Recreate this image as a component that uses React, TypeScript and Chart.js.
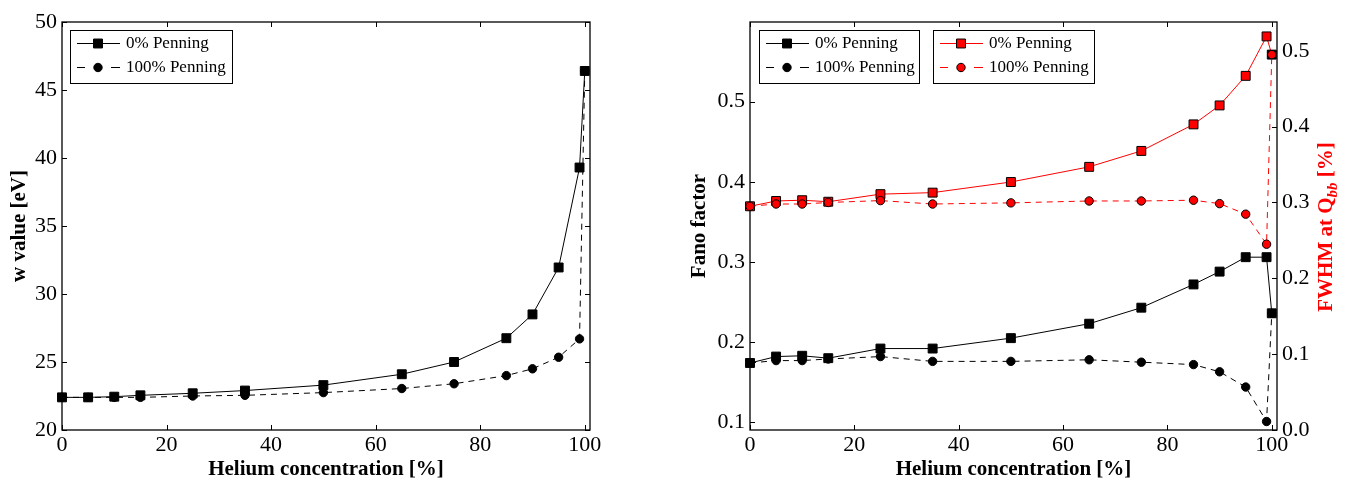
import React, { useEffect, useRef } from "react";
import { Chart, registerables } from "chart.js";

Chart.register(...registerables);

// ---------- data ----------
const helium = [0, 5, 10, 15, 25, 35, 50, 65, 75, 85, 90, 95, 99, 100];
const wValue0 = [22.4, 22.4, 22.45, 22.55, 22.7, 22.9, 23.3, 24.1, 25.0, 26.75, 28.5, 31.95, 39.3, 46.4];
const wValue100 = [22.4, 22.4, 22.4, 22.4, 22.5, 22.55, 22.75, 23.05, 23.4, 24.0, 24.5, 25.35, 26.7, 46.4];
const fano0 = [0.174, 0.182, 0.183, 0.18, 0.192, 0.192, 0.205, 0.223, 0.243, 0.272, 0.288, 0.306, 0.306, 0.236];
const fano100 = [0.174, 0.177, 0.177, 0.179, 0.182, 0.176, 0.176, 0.178, 0.175, 0.172, 0.163, 0.144, 0.101, 0.236];
const fwhm0 = [0.295, 0.302, 0.303, 0.301, 0.311, 0.313, 0.327, 0.347, 0.368, 0.403, 0.428, 0.467, 0.519, 0.495];
const fwhm100 = [0.295, 0.298, 0.298, 0.3, 0.3025, 0.298, 0.2995, 0.302, 0.302, 0.303, 0.2985, 0.2846, 0.245, 0.495];

const xTicks = [0, 20, 40, 60, 80, 100];
const wTicks = [20, 25, 30, 35, 40, 45, 50];
const fanoTicks = [0.1, 0.2, 0.3, 0.4, 0.5];
const fwhmTicks = [0.0, 0.1, 0.2, 0.3, 0.4, 0.5];
const seriesLabels = ["0% Penning", "100% Penning"];

const SERIF = "'Liberation Serif', 'DejaVu Serif', serif";
const RED = "#ff0000";

const pts = (ys: number[]) => helium.map((x, i) => ({ x, y: ys[i] }));

// ---------- plugins ----------
const framePlugin = {
  id: "frame",
  beforeDatasetsDraw(chart: any) {
    const { ctx, chartArea: ca, scales } = chart;
    ctx.save();
    ctx.strokeStyle = "#000";
    ctx.lineWidth = 1.3;
    ctx.strokeRect(ca.left, ca.top, ca.right - ca.left, ca.bottom - ca.top);
    ctx.lineWidth = 1;
    const tl = 5;
    const xs = scales.x;
    xs.ticks.forEach((t: any) => {
      const px = Math.round(xs.getPixelForValue(t.value)) + 0.5;
      ctx.beginPath();
      ctx.moveTo(px, ca.bottom);
      ctx.lineTo(px, ca.bottom - tl);
      ctx.moveTo(px, ca.top);
      ctx.lineTo(px, ca.top + tl);
      ctx.stroke();
    });
    const ys = scales.y;
    const yr = scales.y1 || scales.y;
    ys.ticks.forEach((t: any) => {
      const py = Math.round(ys.getPixelForValue(t.value)) + 0.5;
      ctx.beginPath();
      ctx.moveTo(ca.left, py);
      ctx.lineTo(ca.left + tl, py);
      ctx.stroke();
    });
    yr.ticks.forEach((t: any) => {
      const py = Math.round(yr.getPixelForValue(t.value)) + 0.5;
      ctx.beginPath();
      ctx.moveTo(ca.right, py);
      ctx.lineTo(ca.right - tl, py);
      ctx.stroke();
    });
    ctx.restore();
  },
  afterDatasetsDraw(chart: any, _a: any, opts: any) {
    const { ctx, chartArea: ca } = chart;
    const boxes = (opts && opts.boxes) || [];
    ctx.save();
    boxes.forEach((b: any) => {
      const bx = ca.left + b.x;
      const by = ca.top + b.y;
      ctx.fillStyle = "#fff";
      ctx.fillRect(bx, by, b.w, b.h);
      ctx.strokeStyle = "#000";
      ctx.lineWidth = 1;
      ctx.setLineDash([]);
      ctx.strokeRect(bx + 0.5, by + 0.5, b.w, b.h);
      b.items.forEach((di: number, r: number) => {
        const ds = chart.data.datasets[di];
        const cy = by + 13 + r * 24 + 0.5;
        ctx.strokeStyle = ds.borderColor;
        ctx.lineWidth = 1;
        ctx.beginPath();
        if (ds.borderDash && ds.borderDash.length) {
          ctx.moveTo(bx + 7, cy);
          ctx.lineTo(bx + 15, cy);
          ctx.moveTo(bx + 41, cy);
          ctx.lineTo(bx + 50, cy);
        } else {
          ctx.moveTo(bx + 7, cy);
          ctx.lineTo(bx + 50, cy);
        }
        ctx.stroke();
        ctx.fillStyle = ds.legendFill || ds.backgroundColor;
        ctx.strokeStyle = ds.pointBorderColor || "#000";
        const mx = bx + 28;
        ctx.beginPath();
        if (ds.pointStyle === "rect") {
          const s = ds.pointRadius * Math.SQRT1_2;
          ctx.rect(mx - s, cy - s, 2 * s, 2 * s);
        } else {
          ctx.arc(mx, cy, ds.pointRadius, 0, Math.PI * 2);
        }
        ctx.fill();
        ctx.stroke();
        ctx.fillStyle = "#000";
        ctx.font = `17px ${SERIF}`;
        ctx.textBaseline = "middle";
        ctx.textAlign = "left";
        ctx.fillText(ds.label, bx + 56, cy);
      });
    });
    if (opts && opts.rightTitle) {
      const rt = opts.rightTitle;
      ctx.translate(rt.x, rt.y);
      ctx.rotate(-Math.PI / 2);
      ctx.fillStyle = RED;
      ctx.textBaseline = "middle";
      ctx.textAlign = "left";
      const fMain = `bold 21px ${SERIF}`;
      const fSub = `italic bold 15px ${SERIF}`;
      const parts = [
        { t: "FWHM at Q", f: fMain, dy: 0 },
        { t: "bb", f: fSub, dy: 6 },
        { t: " [%]", f: fMain, dy: 0 },
      ];
      let total = 0;
      parts.forEach((p) => {
        ctx.font = p.f;
        total += ctx.measureText(p.t).width;
      });
      let x = -total / 2;
      parts.forEach((p) => {
        ctx.font = p.f;
        ctx.fillText(p.t, x, p.dy);
        x += ctx.measureText(p.t).width;
      });
    }
    ctx.restore();
  },
};

const tickFont = { family: SERIF, size: 22 };
const titleFont = { family: SERIF, size: 21, weight: "bold" as const };
const noGrid = { display: false, drawTicks: false, tickLength: 0 };

function xScale() {
  return {
    type: "linear" as const,
    min: 0,
    max: 101,
    afterBuildTicks: (s: any) => {
      s.ticks = xTicks.map((v) => ({ value: v }));
    },
    afterFit: (s: any) => {
      s.height = 49;
    },
    grid: noGrid,
    border: { display: false },
    ticks: { font: tickFont, color: "#000", padding: 2, maxRotation: 0, callback: (v: any) => String(v) },
    title: { display: true, text: "Helium concentration [%]", font: titleFont, color: "#000", padding: { top: 0, bottom: -3 } },
  };
}

function baseDs(label: string, ys: number[], color: string, dashed: boolean, order: number, extra: any = {}) {
  return {
    label,
    data: pts(ys),
    borderColor: color,
    backgroundColor: color,
    borderWidth: 1,
    borderDash: dashed ? [6, 5] : [],
    pointStyle: dashed ? "circle" : "rect",
    pointRadius: dashed ? 4.2 : 6.3,
    pointBorderColor: "#000",
    pointBorderWidth: 1,
    pointBackgroundColor: color,
    tension: 0,
    clip: false,
    order,
    ...extra,
  };
}

function LeftChart() {
  const ref = useRef<HTMLCanvasElement>(null);
  useEffect(() => {
    const chart = new Chart(ref.current as HTMLCanvasElement, {
      type: "line",
      data: {
        datasets: [
          baseDs(seriesLabels[0], wValue0, "#000", false, 0),
          baseDs(seriesLabels[1], wValue100, "#000", true, 1),
        ] as any,
      },
      options: {
        animation: false,
        responsive: false,
        layout: { padding: { left: 0, right: 50, top: 22, bottom: 0 } },
        plugins: {
          legend: { display: false },
          tooltip: { enabled: false },
          frame: { boxes: [{ x: 8, y: 8, w: 162, h: 53, items: [0, 1] }] },
        } as any,
        scales: {
          x: xScale() as any,
          y: {
            type: "linear",
            min: 20,
            max: 50,
            afterBuildTicks: (s: any) => {
              s.ticks = wTicks.map((v) => ({ value: v }));
            },
            afterFit: (s: any) => {
              s.width = 62;
            },
            grid: noGrid,
            border: { display: false },
            ticks: { font: tickFont, color: "#000", padding: 5, callback: (v: any) => String(v) },
            title: { display: true, text: "w value [eV]", font: titleFont, color: "#000", padding: { top: 7, bottom: 0 } },
          } as any,
        },
      },
      plugins: [framePlugin],
    });
    return () => chart.destroy();
  }, []);
  return <canvas ref={ref} width={640} height={479} style={{ position: "absolute", left: 0, top: 0, display: "block" }} />;
}

function RightChart() {
  const ref = useRef<HTMLCanvasElement>(null);
  useEffect(() => {
    const redSquareFill = helium.map((x) => (x === 100 ? "#000" : RED));
    const chart = new Chart(ref.current as HTMLCanvasElement, {
      type: "line",
      data: {
        datasets: [
          baseDs(seriesLabels[0], fano0, "#000", false, 3, { yAxisID: "y" }),
          baseDs(seriesLabels[1], fano100, "#000", true, 2, { yAxisID: "y" }),
          baseDs(seriesLabels[0], fwhm0, RED, false, 1, { yAxisID: "y1", pointBackgroundColor: redSquareFill, legendFill: RED }),
          baseDs(seriesLabels[1], fwhm100, RED, true, 0, { yAxisID: "y1" }),
        ] as any,
      },
      options: {
        animation: false,
        responsive: false,
        layout: { padding: { left: 0, right: 0, top: 22, bottom: 0 } },
        plugins: {
          legend: { display: false },
          tooltip: { enabled: false },
          frame: {
            boxes: [
              { x: 9, y: 8, w: 160, h: 53, items: [0, 1] },
              { x: 183, y: 8, w: 161, h: 53, items: [2, 3] },
            ],
            rightTitle: { x: 687, y: 227 },
          },
        } as any,
        scales: {
          x: xScale() as any,
          y: {
            type: "linear",
            position: "left",
            min: 0.0904,
            max: 0.5994,
            afterBuildTicks: (s: any) => {
              s.ticks = fanoTicks.map((v) => ({ value: v }));
            },
            afterFit: (s: any) => {
              s.width = 110;
            },
            grid: noGrid,
            border: { display: false },
            ticks: { font: tickFont, color: "#000", padding: 5, callback: (v: any) => Number(v).toFixed(1) },
            title: { display: true, text: "Fano factor", font: titleFont, color: "#000", padding: { top: 47, bottom: 0 } },
          } as any,
          y1: {
            type: "linear",
            position: "right",
            min: 0,
            max: 0.538,
            afterBuildTicks: (s: any) => {
              s.ticks = fwhmTicks.map((v) => ({ value: v }));
            },
            afterFit: (s: any) => {
              s.width = 72;
            },
            grid: noGrid,
            border: { display: false },
            ticks: { font: tickFont, color: "#000", padding: 5, callback: (v: any) => Number(v).toFixed(1) },
          } as any,
        },
      },
      plugins: [framePlugin],
    });
    return () => chart.destroy();
  }, []);
  return <canvas ref={ref} width={709} height={479} style={{ position: "absolute", left: 640, top: 0, display: "block" }} />;
}

export default function App() {
  return (
    <div style={{ position: "absolute", left: 0, top: 0, width: 1349, height: 479, background: "#fff" }}>
      <LeftChart />
      <RightChart />
    </div>
  );
}
